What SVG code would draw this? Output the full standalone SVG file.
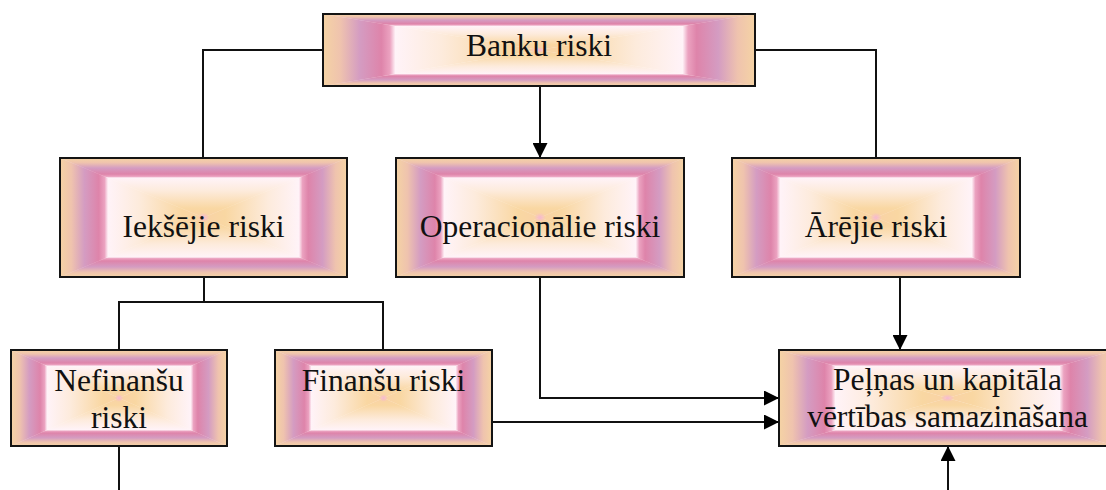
<svg xmlns="http://www.w3.org/2000/svg" xmlns:xlink="http://www.w3.org/1999/xlink" width="1106" height="490" viewBox="0 0 1106 490">
  <style>
    .frame { fill: none; stroke: #141414; stroke-width: 2; }
    .lbl { font-family: "Liberation Serif", "Times New Roman", serif; font-size: 31.5px; fill: #111; text-anchor: middle; }
    .wire { fill: none; stroke: #111; stroke-width: 2; }
  </style>
  <defs>
    <!-- rectangular "path" gradient: edge (0) to centre (1) -->
    <linearGradient id="gL" x1="0" y1="0" x2="1" y2="0">
      <stop offset="0" stop-color="#F5D3A4"/>
      <stop offset="0.08" stop-color="#EFC3AE"/>
      <stop offset="0.17" stop-color="#D49CC2"/>
      <stop offset="0.27" stop-color="#DE84AA"/>
      <stop offset="0.31" stop-color="#EBA2C0"/>
      <stop offset="0.335" stop-color="#FFF3F8"/>
      <stop offset="0.55" stop-color="#FDEBDC"/>
      <stop offset="0.85" stop-color="#F9D7A2"/>
      <stop offset="1" stop-color="#F9D2A6"/>
    </linearGradient>
    <linearGradient id="gR" xlink:href="#gL" x1="1" y1="0" x2="0" y2="0"/>
    <linearGradient id="gT" xlink:href="#gL" x1="0" y1="0" x2="0" y2="1"/>
    <linearGradient id="gB" xlink:href="#gL" x1="0" y1="1" x2="0" y2="0"/>
    <radialGradient id="spot">
      <stop offset="0" stop-color="#F6B8D2"/>
      <stop offset="1" stop-color="#F6B8D2" stop-opacity="0"/>
    </radialGradient>
    <symbol id="fill" viewBox="0 0 100 100" preserveAspectRatio="none">
      <polygon points="0,0 0,100 50,50" fill="url(#gL)" stroke="url(#gL)" stroke-width="0.3"/>
      <polygon points="100,0 100,100 50,50" fill="url(#gR)" stroke="url(#gR)" stroke-width="0.3"/>
      <polygon points="0,0 100,0 50,50" fill="url(#gT)"/>
      <polygon points="0,100 100,100 50,50" fill="url(#gB)"/>
      <ellipse cx="50" cy="50" rx="2" ry="4" fill="url(#spot)"/>
    </symbol>
    <marker id="arr" viewBox="0 0 10 10" refX="10" refY="5" markerUnits="userSpaceOnUse" markerWidth="15" markerHeight="15" orient="auto">
      <path d="M0,0 L10,5 L0,10 z" fill="#000"/>
    </marker>
  </defs>

  <g id="connectors">
    <path class="wire" d="M323,50 H203 V158"/>
    <path class="wire" d="M755,50 H876 V158"/>
    <path class="wire" d="M540,86 V158" marker-end="url(#arr)"/>
    <path class="wire" d="M204,277 V302 M119,350 V302 H383 V350"/>
    <path class="wire" d="M540,277 V398 H779" marker-end="url(#arr)"/>
    <path class="wire" d="M900,277 V350" marker-end="url(#arr)"/>
    <path class="wire" d="M492,422 H779" marker-end="url(#arr)"/>
    <path class="wire" d="M119,446 V490"/>
    <path class="wire" d="M948,490 V446" marker-end="url(#arr)"/>
  </g>

  <g id="banku-riski">
    <use xlink:href="#fill" x="323" y="14" width="432" height="72"/>
    <rect class="frame" x="323" y="14" width="432" height="72"/>
    <text class="lbl" x="539" y="56">Banku riski</text>
  </g>

  <g id="iekshejie-riski">
    <use xlink:href="#fill" x="60" y="158" width="287" height="119"/>
    <rect class="frame" x="60" y="158" width="287" height="119"/>
    <text class="lbl" x="203.5" y="237">Iekšējie riski</text>
  </g>

  <g id="operacionalie-riski">
    <use xlink:href="#fill" x="396" y="158" width="288" height="119"/>
    <rect class="frame" x="396" y="158" width="288" height="119"/>
    <text class="lbl" x="540" y="237">Operacionālie riski</text>
  </g>

  <g id="arejie-riski">
    <use xlink:href="#fill" x="732" y="158" width="288" height="119"/>
    <rect class="frame" x="732" y="158" width="288" height="119"/>
    <text class="lbl" x="876" y="237">Ārējie riski</text>
  </g>

  <g id="nefinansu-riski">
    <use xlink:href="#fill" x="11" y="350" width="216" height="96"/>
    <rect class="frame" x="11" y="350" width="216" height="96"/>
    <text class="lbl" x="119" y="391">Nefinanšu</text>
    <text class="lbl" x="119" y="428">riski</text>
  </g>

  <g id="finansu-riski">
    <use xlink:href="#fill" x="275" y="350" width="217" height="96"/>
    <rect class="frame" x="275" y="350" width="217" height="96"/>
    <text class="lbl" x="383.5" y="391">Finanšu riski</text>
  </g>

  <g id="pelnas-samazinasana">
    <use xlink:href="#fill" x="779" y="350" width="337" height="96"/>
    <rect class="frame" x="779" y="350" width="337" height="96"/>
    <text class="lbl" x="947.5" y="390">Peļņas un kapitāla</text>
    <text class="lbl" x="947.5" y="427">vērtības samazināšana</text>
  </g>
</svg>
